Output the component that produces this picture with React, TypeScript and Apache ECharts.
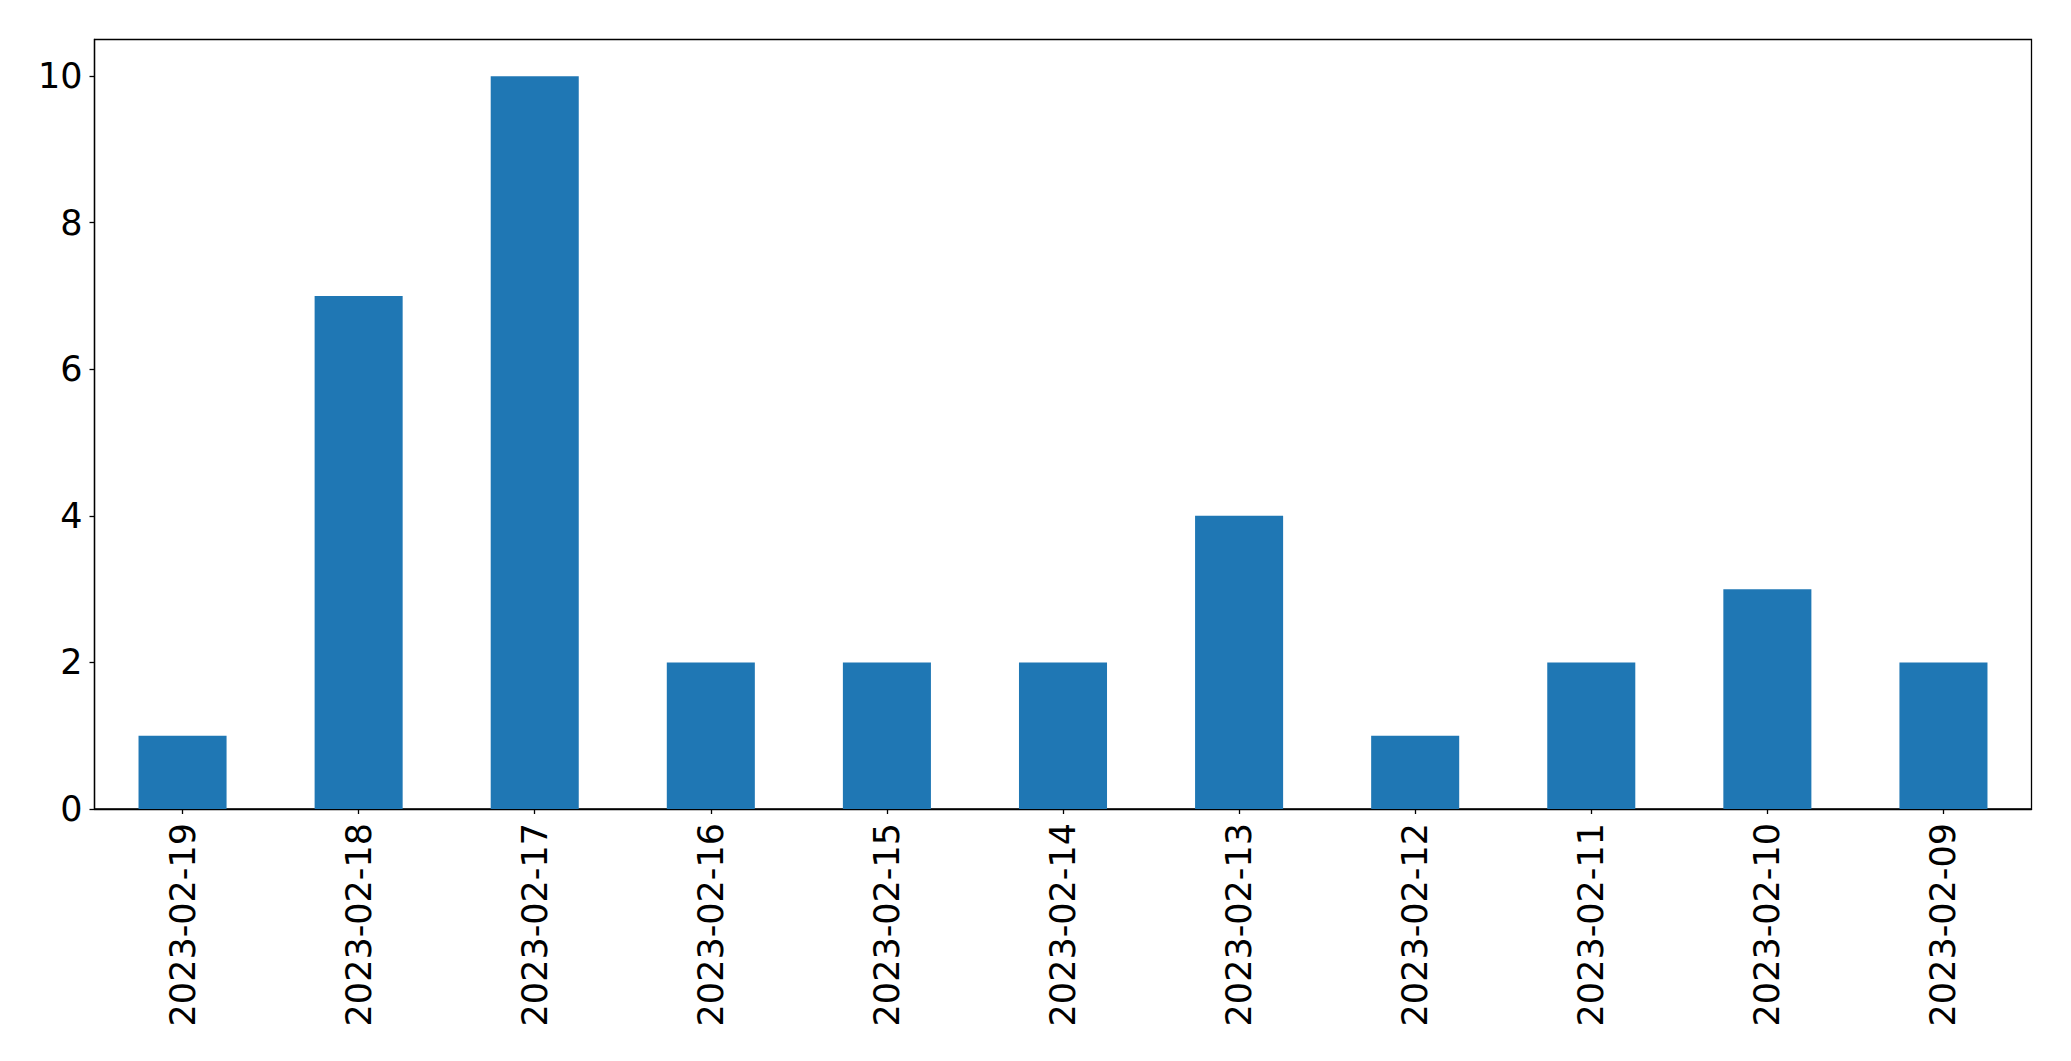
import React, { useEffect, useRef } from "react";
import * as echarts from "echarts";

const categories = [
  "2023-02-19",
  "2023-02-18",
  "2023-02-17",
  "2023-02-16",
  "2023-02-15",
  "2023-02-14",
  "2023-02-13",
  "2023-02-12",
  "2023-02-11",
  "2023-02-10",
  "2023-02-09",
];
const counts = [1, 7, 10, 2, 2, 2, 4, 1, 2, 3, 2];
const yTicks = [0, 2, 4, 6, 8, 10];

export default function App() {
  const ref = useRef<HTMLDivElement>(null);
  useEffect(() => {
    document.body.style.margin = "0";
    if (!ref.current) return;
    const chart = echarts.init(ref.current, undefined, { renderer: "svg" });
    const font = "DejaVu Sans";
    chart.setOption({
      animation: false,
      backgroundColor: "#ffffff",
      grid: {
        left: 94.5,
        right: 39.5,
        top: 39.5,
        bottom: 252,
        show: true,
        borderColor: "#000000",
        borderWidth: 1.3,
        backgroundColor: "transparent",
      },
      xAxis: {
        type: "category",
        data: categories,
        boundaryGap: true,
        axisLine: { show: true, lineStyle: { color: "#000000", width: 1.3 } },
        axisTick: {
          show: true,
          alignWithLabel: true,
          length: 5,
          lineStyle: { color: "#000000", width: 1.3 },
        },
        axisLabel: {
          rotate: 90,
          interval: 0,
          margin: 14,
          fontFamily: font,
          fontSize: 35,
          color: "#000000",
        },
        splitLine: { show: false },
      },
      yAxis: {
        type: "value",
        min: 0,
        max: 10.5,
        interval: 2,
        axisLine: { show: true, lineStyle: { color: "#000000", width: 1.3 } },
        axisTick: {
          show: true,
          length: 5,
          customValues: yTicks,
          lineStyle: { color: "#000000", width: 1.3 },
        },
        axisLabel: {
          customValues: yTicks,
          margin: 12,
          fontFamily: font,
          fontSize: 35,
          color: "#000000",
        },
        splitLine: { show: false },
      },
      series: [
        {
          type: "bar",
          data: counts,
          barWidth: "50%",
          itemStyle: { color: "#1f77b4" },
        },
      ],
    });
    return () => chart.dispose();
  }, []);
  return <div ref={ref} style={{ width: 2071, height: 1061 }} />;
}
